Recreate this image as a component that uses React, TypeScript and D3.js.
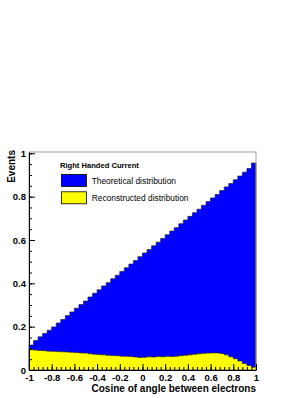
import { useEffect, useRef } from 'react';
import * as d3 from 'd3';

// 50 bins of width 0.04 from -1 to 1
const theoretical = [
  0.115, 0.136, 0.153, 0.168, 0.184, 0.199, 0.217, 0.233, 0.251, 0.268,
  0.285, 0.302, 0.318, 0.337, 0.354, 0.370, 0.388, 0.403, 0.421, 0.437,
  0.455, 0.472, 0.489, 0.505, 0.523, 0.540, 0.556, 0.573, 0.590, 0.607,
  0.624, 0.641, 0.657, 0.675, 0.692, 0.709, 0.726, 0.742, 0.760, 0.777,
  0.794, 0.810, 0.828, 0.845, 0.861, 0.878, 0.895, 0.913, 0.930, 0.955,
];
const reconstructed = [
  0.094, 0.092, 0.090, 0.089, 0.087, 0.086, 0.085, 0.084, 0.083, 0.082,
  0.081, 0.079, 0.078, 0.075, 0.073, 0.071, 0.070, 0.068, 0.067, 0.066,
  0.064, 0.063, 0.062, 0.060, 0.058, 0.059, 0.061, 0.060, 0.062, 0.061,
  0.063, 0.062, 0.064, 0.066, 0.068, 0.070, 0.073, 0.075, 0.077, 0.078,
  0.079, 0.079, 0.076, 0.070, 0.061, 0.052, 0.042, 0.030, 0.021, 0.013,
];
const xTicks = [-1, -0.8, -0.6, -0.4, -0.2, 0, 0.2, 0.4, 0.6, 0.8, 1];
const yTicks = [0, 0.2, 0.4, 0.6, 0.8, 1];
const legendTitle = 'Right Handed Current';
const legendItems = [
  { label: 'Theoretical distribution', colour: '#0000ff' },
  { label: 'Reconstructed distribution', colour: '#ffff00' },
];

const App = () => {
  const svgRef = useRef(null);

  useEffect(() => {
    const width = 307;
    const height = 398;
    const svg = d3.select(svgRef.current);
    svg.selectAll('*').remove();
    svg.attr('width', width).attr('height', height);

    svg.append('rect').attr('width', width).attr('height', height).attr('fill', 'white');

    const frame = { left: 29, right: 256, top: 152, bottom: 370 };

    const xScale = d3.scaleLinear().domain([-1, 1]).range([frame.left, frame.right]);
    const yScale = d3.scaleLinear().domain([0, 1.006]).range([frame.bottom, frame.top]);

    const nBins = theoretical.length;
    const binW = 2 / nBins;

    const drawHist = (values: number[], colour: string) => {
      const pts = values.map((v, i) => [-1 + i * binW, v]);
      pts.push([1, values[values.length - 1]]);
      const area = d3
        .area<number[]>()
        .curve(d3.curveStepAfter)
        .x((d) => xScale(d[0]))
        .y0(yScale(0))
        .y1((d) => yScale(d[1]));
      svg
        .append('path')
        .attr('d', area(pts))
        .attr('fill', colour)
        .attr('stroke', '#222')
        .attr('stroke-width', 0.7);
    };

    drawHist(theoretical, '#0000ff');
    drawHist(reconstructed, '#ffff00');

    // frame
    svg
      .append('rect')
      .attr('x', frame.left)
      .attr('y', frame.top)
      .attr('width', frame.right - frame.left)
      .attr('height', frame.bottom - frame.top)
      .attr('fill', 'none')
      .attr('stroke', '#a0a0a0')
      .attr('stroke-width', 1);

    const font = 'Liberation Sans, Arial, sans-serif';

    // x axis
    const xMinor = d3.range(51).map((i) => -1 + i * 0.04);
    svg
      .append('g')
      .attr('transform', `translate(0,${frame.bottom})`)
      .call(d3.axisBottom(xScale).tickValues(xMinor).tickSize(-3).tickSizeOuter(0).tickFormat(() => ''))
      .call((g) => g.select('.domain').remove());
    svg
      .append('g')
      .attr('transform', `translate(0,${frame.bottom})`)
      .call(
        d3
          .axisBottom(xScale)
          .tickValues(xTicks)
          .tickSize(-6)
          .tickSizeOuter(0)
          .tickPadding(4.5)
          .tickFormat((d) => String(d))
      )
      .call((g) => g.select('.domain').attr('stroke', '#000'))
      .call((g) =>
        g.selectAll('text').style('font-family', font).style('font-weight', 'bold').style('font-size', '9.5px').attr('fill', '#000')
      );

    // y axis
    const yMinor = d3.range(21).map((i) => i * 0.05);
    svg
      .append('g')
      .attr('transform', `translate(${frame.left},0)`)
      .call(d3.axisLeft(yScale).tickValues(yMinor).tickSize(-3).tickSizeOuter(0).tickFormat(() => ''))
      .call((g) => g.select('.domain').remove());
    svg
      .append('g')
      .attr('transform', `translate(${frame.left},0)`)
      .call(
        d3
          .axisLeft(yScale)
          .tickValues(yTicks)
          .tickSize(-6)
          .tickSizeOuter(0)
          .tickPadding(3)
          .tickFormat((d) => String(d))
      )
      .call((g) => g.select('.domain').attr('stroke', '#000'))
      .call((g) =>
        g.selectAll('text').style('font-family', font).style('font-weight', 'bold').style('font-size', '9.5px').attr('fill', '#000')
      );

    // axis titles
    svg
      .append('text')
      .attr('x', frame.right)
      .attr('y', 392)
      .attr('text-anchor', 'end')
      .style('font-family', font)
      .style('font-weight', 'bold')
      .style('font-size', '10px')
      .text('Cosine of angle between electrons');

    svg
      .append('text')
      .attr('transform', `translate(14.5,150) rotate(-90)`)
      .attr('text-anchor', 'end')
      .style('font-family', font)
      .style('font-weight', 'bold')
      .style('font-size', '10px')
      .text('Events');

    // legend
    svg
      .append('text')
      .attr('x', 60)
      .attr('y', 168)
      .style('font-family', font)
      .style('font-weight', 'bold')
      .style('font-size', '7.6px')
      .text(legendTitle);

    legendItems.forEach((item, i) => {
      const y0 = 174.5 + i * 17.3;
      svg
        .append('rect')
        .attr('x', 61.5)
        .attr('y', y0)
        .attr('width', 25)
        .attr('height', 12)
        .attr('fill', item.colour)
        .attr('stroke', '#000')
        .attr('stroke-width', 0.8);
      svg
        .append('text')
        .attr('x', 91.7)
        .attr('y', y0 + 9)
        .style('font-family', font)
        .style('font-size', '8.4px')
        .text(item.label);
    });
  }, []);

  return (
    <div style={{ position: 'absolute', left: 0, top: 0 }}>
      <svg ref={svgRef} style={{ display: 'block' }}></svg>
    </div>
  );
};

export default App;
